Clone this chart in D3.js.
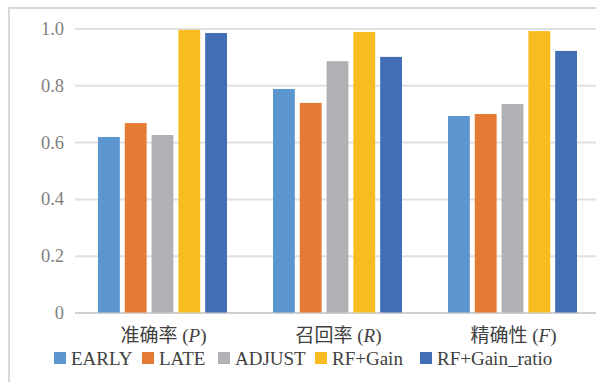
<!DOCTYPE html>
<html>
<head>
<meta charset="utf-8">
<script src="https://cdn.jsdelivr.net/npm/d3@7"></script>
<style>
  html, body { margin: 0; padding: 0; background: #fff; }
  svg { display: block; }
  .serif { font-family: "Liberation Serif", "Times New Roman", "Noto Sans CJK SC", serif; }
</style>
</head>
<body>
<svg id="chart" width="596" height="382"></svg>
<script>
// Metric groups along the x axis
const categories = ["准确率 (P)", "召回率 (R)", "精确性 (F)"];
const catMain = ["准确率", "召回率", "精确性"];
const catSym = ["P", "R", "F"];

// Methods compared in each group
const seriesNames = ["EARLY", "LATE", "ADJUST", "RF+Gain", "RF+Gain_ratio"];
const seriesColors = ["#5B96CE", "#E57A35", "#B0B1B4", "#F6BC20", "#426EB5"];

// Scores per method, one entry per metric group
const early = [0.618, 0.787, 0.692];
const late = [0.667, 0.738, 0.699];
const adjust = [0.625, 0.885, 0.734];
const rfGain = [0.995, 0.988, 0.991];
const rfGainRatio = [0.984, 0.900, 0.921];

const yTicks = [0, 0.2, 0.4, 0.6, 0.8, 1.0];

const seriesValues = [early, late, adjust, rfGain, rfGainRatio];

const svg = d3.select("#chart");
const W = 596, H = 382;

// chart frame
svg.append("rect")
  .attr("x", 9).attr("y", 8)
  .attr("width", W + 20).attr("height", H + 20)
  .attr("fill", "none")
  .attr("stroke", "#D9D9D9")
  .attr("stroke-width", 2);

const plot = { left: 75, right: 600, top: 28.5, bottom: 312.5 };

const y = d3.scaleLinear().domain([0, 1]).range([plot.bottom, plot.top]);

const x0 = d3.scaleBand()
  .domain(categories)
  .range([plot.left, plot.right])
  .padding(0);

const x1 = d3.scaleBand()
  .domain(seriesNames)
  .range([23, x0.bandwidth() - 23])
  .paddingInner(0.185)
  .paddingOuter(0);

// horizontal gridlines and value labels
const yAxis = d3.axisLeft(y)
  .tickValues(yTicks)
  .tickSize(-(plot.right - plot.left))
  .tickPadding(11)
  .tickFormat(d => d === 0 ? "0" : d3.format(".1f")(d));

const gy = svg.append("g")
  .attr("transform", `translate(${plot.left},0)`)
  .call(yAxis)
  .attr("font-family", null)
  .attr("font-size", null);
gy.select(".domain").remove();
gy.selectAll(".tick line")
  .attr("stroke", d => d === 0 ? "#D0D0D0" : "#E0E0E0")
  .attr("stroke-width", 2);
gy.selectAll(".tick text")
  .attr("class", "serif")
  .attr("fill", "#7F7F7F")
  .attr("font-size", 18.5);

// bars
const rows = categories.map((c, i) => ({
  cat: c,
  vals: seriesNames.map((s, j) => ({ name: s, value: seriesValues[j][i], color: seriesColors[j] }))
}));

const groups = svg.append("g").selectAll("g")
  .data(rows)
  .join("g")
  .attr("transform", d => `translate(${x0(d.cat)},0)`);

groups.selectAll("rect")
  .data(d => d.vals)
  .join("rect")
  .attr("x", d => x1(d.name))
  .attr("width", x1.bandwidth())
  .attr("y", d => y(d.value))
  .attr("height", d => y(0) - y(d.value))
  .attr("fill", d => d.color);

// category labels
const xlab = svg.append("g").selectAll("text")
  .data(categories)
  .join("text")
  .attr("class", "serif")
  .attr("x", d => x0(d) + x0.bandwidth() / 2 + 1)
  .attr("y", 342)
  .attr("text-anchor", "middle")
  .attr("fill", "#404040")
  .attr("font-size", 19);
xlab.append("tspan").text((d, i) => catMain[i] + " (");
xlab.append("tspan").attr("font-style", "italic").text((d, i) => catSym[i]);
xlab.append("tspan").text(")");

// legend
const legendX = [54, 142, 218, 315, 420];
const leg = svg.append("g").selectAll("g")
  .data(seriesNames)
  .join("g")
  .attr("transform", (d, i) => `translate(${legendX[i]},352)`);
leg.append("rect")
  .attr("width", 12).attr("height", 12)
  .attr("fill", (d, i) => seriesColors[i]);
leg.append("text")
  .attr("class", "serif")
  .attr("x", 17)
  .attr("y", 12.5)
  .attr("fill", "#404040")
  .attr("font-size", 19)
  .text(d => d);
</script>
</body>
</html>
